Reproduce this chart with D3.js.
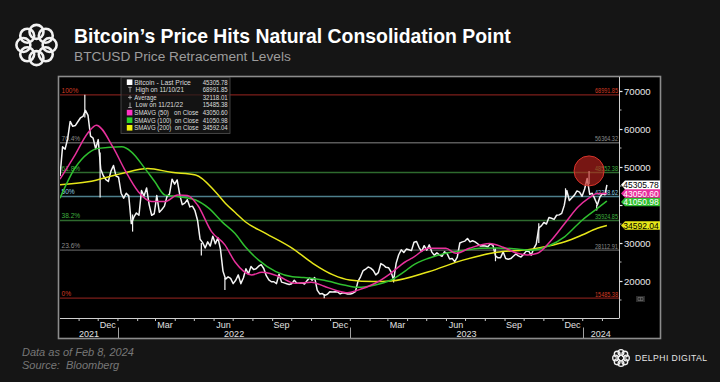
<!DOCTYPE html>
<html><head><meta charset="utf-8">
<script src="https://cdn.jsdelivr.net/npm/d3@7"></script>
<style>
html,body{margin:0;padding:0;background:#151515;}
svg{display:block;}
text{font-family:"Liberation Sans",Arial,sans-serif;}
</style></head><body>
<svg id="chart" width="720" height="382"></svg>
<script>
// ---------------- DATA ----------------
const priceData = [
["2021-10-02",47600],["2021-10-06",55300],["2021-10-10",54700],["2021-10-14",57400],["2021-10-18",62000],["2021-10-22",60700],["2021-10-26",60900],["2021-10-30",61900],["2021-11-03",62900],["2021-11-07",63300],["2021-11-11",64900],["2021-11-15",63600],["2021-11-19",58100],["2021-11-23",57600],["2021-11-27",54800],["2021-12-01",57200],["2021-12-05",49400],["2021-12-09",47700],["2021-12-13",46700],["2021-12-17",46200],["2021-12-21",48900],["2021-12-25",50400],["2021-12-29",47600],
["2022-01-02",47300],["2022-01-06",43100],["2022-01-10",41800],["2022-01-14",43100],["2022-01-18",42400],["2022-01-22",35100],["2022-01-26",36800],["2022-01-30",37900],["2022-02-03",37300],["2022-02-07",43800],["2022-02-11",42400],["2022-02-15",44500],["2022-02-19",40100],["2022-02-23",37300],["2022-02-27",37700],["2022-03-03",42500],["2022-03-07",38100],["2022-03-11",38800],["2022-03-15",39700],["2022-03-19",42200],["2022-03-23",42900],["2022-03-27",46800],["2022-03-31",45500],["2022-04-04",46600],["2022-04-08",42800],["2022-04-12",40100],["2022-04-16",40500],["2022-04-20",41400],["2022-04-24",39500],["2022-04-28",39700],["2022-05-02",38500],["2022-05-06",36000],["2022-05-10",31000],["2022-05-14",30100],["2022-05-18",28700],["2022-05-22",30300],["2022-05-26",29200],["2022-05-30",31800],["2022-06-03",29800],["2022-06-07",31400],["2022-06-11",28400],["2022-06-15",22600],["2022-06-19",20500],["2022-06-23",21100],["2022-06-27",20700],["2022-07-01",19300],["2022-07-05",20200],["2022-07-09",21600],["2022-07-13",19300],["2022-07-17",20800],["2022-07-21",23200],["2022-07-25",21900],["2022-07-29",23800],["2022-08-02",23000],["2022-08-06",23200],["2022-08-10",23900],["2022-08-14",24300],["2022-08-18",23300],["2022-08-22",21400],["2022-08-26",20300],["2022-08-30",19800],["2022-09-03",19800],["2022-09-07",19300],["2022-09-11",21800],["2022-09-15",19700],["2022-09-19",19500],["2022-09-23",19300],["2022-09-27",19100],["2022-10-01",19300],["2022-10-05",20200],["2022-10-09",19400],["2022-10-13",19400],["2022-10-17",19500],["2022-10-21",19200],["2022-10-25",20100],["2022-10-29",20800],["2022-11-02",20200],["2022-11-06",20900],["2022-11-10",17600],["2022-11-14",16600],["2022-11-18",16700],["2022-11-22",16200],["2022-11-26",16500],["2022-11-30",17200],["2022-12-04",17100],["2022-12-08",17200],["2022-12-12",17100],["2022-12-16",16600],["2022-12-20",16900],["2022-12-24",16800],["2022-12-28",16600],
["2023-01-01",16600],["2023-01-05",16800],["2023-01-09",17200],["2023-01-13",19900],["2023-01-17",21100],["2023-01-21",22700],["2023-01-25",23100],["2023-01-29",23700],["2023-02-02",23400],["2023-02-06",22800],["2023-02-10",21600],["2023-02-14",22200],["2023-02-18",24600],["2023-02-22",24200],["2023-02-26",23600],["2023-03-02",23500],["2023-03-06",22400],["2023-03-10",20200],["2023-03-14",24700],["2023-03-18",26900],["2023-03-22",28200],["2023-03-26",27500],["2023-03-30",28400],["2023-04-03",28200],["2023-04-07",28000],["2023-04-11",30200],["2023-04-15",30400],["2023-04-19",28800],["2023-04-23",27800],["2023-04-27",29300],["2023-05-01",28100],["2023-05-05",29500],["2023-05-09",27600],["2023-05-13",26800],["2023-05-17",27400],["2023-05-21",26900],["2023-05-25",26500],["2023-05-29",27700],["2023-06-02",27200],["2023-06-06",25800],["2023-06-10",25900],["2023-06-14",25100],["2023-06-18",26300],["2023-06-22",30000],["2023-06-26",30300],["2023-06-30",30500],["2023-07-04",31200],["2023-07-08",30300],["2023-07-12",30600],["2023-07-16",30300],["2023-07-20",29800],["2023-07-24",29200],["2023-07-28",29300],["2023-08-01",29200],["2023-08-05",29000],["2023-08-09",29800],["2023-08-13",29400],["2023-08-17",26600],["2023-08-21",26100],["2023-08-25",26100],["2023-08-29",27700],["2023-09-02",25900],["2023-09-06",25700],["2023-09-10",25900],["2023-09-14",26500],["2023-09-18",27100],["2023-09-22",26600],["2023-09-26",26300],["2023-09-30",27000],["2023-10-04",27800],["2023-10-08",27900],["2023-10-12",26800],["2023-10-16",28500],["2023-10-20",29700],["2023-10-24",34000],["2023-10-28",34500],["2023-11-01",35400],["2023-11-05",35000],["2023-11-09",36700],["2023-11-13",36500],["2023-11-17",36200],["2023-11-21",37300],["2023-11-25",37400],["2023-11-29",37800],["2023-12-03",39900],["2023-12-07",43800],["2023-12-11",41200],["2023-12-15",41900],["2023-12-19",42600],["2023-12-23",43700],["2023-12-27",43400],["2023-12-31",42300],
["2024-01-04",44200],["2024-01-08",47000],["2024-01-12",42800],["2024-01-16",43100],["2024-01-20",41600],["2024-01-24",40000],["2024-01-28",42100],["2024-02-01",43000],["2024-02-05",42700],["2024-02-08",45305.78]
];
// intraday extremes (date, low, high)
const wickData = [
["2021-11-10",63000,68991.85],["2021-12-04",42000,53800],["2022-01-24",33000,37500],["2022-05-12",26700,30000],
["2022-06-18",17600,20800],["2022-11-21",15485.38,16600],["2023-03-10",19600,20400],["2023-08-17",25200,28700],
["2023-10-24",30000,35200],["2023-12-05",41500,44400],["2024-01-11",45500,48969],["2024-01-23",38555,40000]
];
const sma50Data = [
["2021-10-02",46800],["2021-10-25",53000],["2021-11-15",59000],["2021-11-28",61000],["2021-12-24",55300],["2022-01-12",49200],["2022-02-02",43500],["2022-02-23",40900],["2022-03-16",40900],["2022-04-05",42600],["2022-04-20",42500],["2022-05-06",40000],["2022-05-28",33000],["2022-06-18",29500],["2022-07-04",25000],["2022-07-30",21600],["2022-08-15",22300],["2022-08-28",22000],["2022-09-12",21100],["2022-10-06",19400],["2022-11-01",19700],["2022-11-21",18600],["2022-12-10",17500],["2022-12-28",16900],["2023-01-13",17600],["2023-02-09",19400],["2023-03-06",22100],["2023-03-28",25000],["2023-04-08",26000],["2023-05-04",28600],["2023-05-31",28600],["2023-06-16",27300],["2023-07-07",28600],["2023-08-08",29900],["2023-08-29",28900],["2023-09-20",27300],["2023-10-06",26840],["2023-10-22",27300],["2023-11-13",30800],["2023-12-04",35200],["2023-12-25",39550],["2024-01-10",41760],["2024-01-24",43000],["2024-02-08",43050.60]
];
const sma100Data = [
["2021-10-02",41800],["2021-10-25",49600],["2021-11-15",53600],["2021-12-01",54900],["2022-01-07",55300],["2022-01-22",54000],["2022-02-12",49700],["2022-02-28",46100],["2022-03-16",42600],["2022-04-06",42200],["2022-05-03",41300],["2022-05-24",39100],["2022-06-14",35500],["2022-07-04",32500],["2022-07-20",29000],["2022-08-10",25500],["2022-09-06",22450],["2022-10-02",21100],["2022-10-20",20900],["2022-11-21",20200],["2022-12-22",18950],["2023-01-13",18340],["2023-02-09",18950],["2023-03-06",20260],["2023-03-28",22600],["2023-04-08",24000],["2023-05-04",26000],["2023-05-31",27300],["2023-06-27",28000],["2023-07-23",28600],["2023-08-19",28700],["2023-09-15",28500],["2023-10-12",28100],["2023-11-08",29200],["2023-12-04",31700],["2023-12-31",36000],["2024-01-24",39100],["2024-02-08",41050.98]
];
const sma200Data = [
["2021-10-02",45300],["2021-11-15",46100],["2022-01-07",48300],["2022-02-17",49600],["2022-03-26",48600],["2022-05-03",47900],["2022-06-03",43500],["2022-06-19",40400],["2022-07-05",37900],["2022-07-20",35600],["2022-08-21",32550],["2022-10-02",28600],["2022-11-03",24650],["2022-12-05",21600],["2022-12-31",20260],["2023-02-06",19850],["2023-03-06",20000],["2023-05-04",22450],["2023-06-27",25500],["2023-08-19",27550],["2023-10-12",28340],["2023-11-08",29200],["2023-12-04",30340],["2023-12-31",32100],["2024-01-24",33870],["2024-02-08",34592.04]
];
const levelValues = [68991.85, 56364.32, 48552.38, 42238.62, 35924.85, 28112.91, 15485.38];
const levelNames  = ["100%","76.4%","61.8%","50%","38.2%","23.6%","0%"];
const yTickValues  = [20000, 30000, 40000, 50000, 60000, 70000];
const yLabelValues = [20000, 30000, 50000, 60000, 70000];
const quarterNames = ["Dec","Mar","Jun","Sep","Dec","Mar","Jun","Sep","Dec"];
const quarterDates = ["2021-12-16","2022-03-16","2022-06-16","2022-09-15","2022-12-16","2023-03-16","2023-06-16","2023-09-15","2023-12-16"];
const yearNames = ["2021","2022","2023","2024"];
const lastValues = [34592.04, 41050.98, 43050.60, 45305.78];
const legendNames = ["Bitcoin - Last Price","High on 11/10/21","Average","Low on 11/21/22","SMAVG (50)   on Close","SMAVG (100)  on Close","SMAVG (200)  on Close"];
const legendValues = [45305.78, 68991.85, 32118.01, 15485.38, 43050.60, 41050.98, 34592.04];
const highlightPoint = ["2024-01-11", 48969];

// ---------------- STYLES ----------------
const C = {pink:"#e8309c", green:"#2fbf2f", yellow:"#e6e619", white:"#ffffff"};
const levelLine  = ["#7c1e1a","#5a5a5a","#2e6a2e","#4d7f8c","#2e6a2e","#5a5a5a","#7c1e1a"];
const levelText  = ["#d23a22","#8a8a8a","#3fae3f","#8fd0e6","#3fae3f","#8a8a8a","#d23a22"];
const tagFill = ["#e6e619","#2fbf2f","#e8309c","#ffffff"];
const tagText = ["#000","#fff","#fff","#000"];
const tagNudge = [0, 0.9, 0, 0];
const legendIcon = ["sq","hi","plus","lo","sq","sq","sq"];
const legendColor = ["#fff","#bbb","#bbb","#bbb","#ff33c4","#2ad02a","#f2f20a"];
const legendTextX = [134.3,135.5,134.3,135.5,134.3,134.3,134.3];
const legendTextW = [56.5,48.5,22.3,47.5,64.2,64.2,64.2];

// ---------------- CHART ----------------
const parse = d3.utcParse("%Y-%m-%d");
const svg = d3.select("#chart");
const PL=60, PR=619, PT=77, PB=318;

svg.append("rect").attr("width",720).attr("height",382).attr("fill","#151515");

// header logo
function logo(g, cx, cy, r, sw){
  const n=8;
  for(let i=0;i<n;i++){
    const a=i*2*Math.PI/n;
    g.append("circle").attr("cx",cx+Math.cos(a)*r*0.64).attr("cy",cy+Math.sin(a)*r*0.64)
     .attr("r",r*0.34).attr("fill","none").attr("stroke","#f2f2f2").attr("stroke-width",sw);
  }
}
logo(svg.append("g"), 36.5, 45, 20.5, 2.6);

svg.append("text").attr("x",74).attr("y",43).attr("fill","#ffffff")
  .attr("font-size",19.4).attr("font-weight","bold").text("Bitcoin’s Price Hits Natural Consolidation Point");
svg.append("text").attr("x",74).attr("y",61).attr("fill","#9c9c9c")
  .attr("font-size",13.7).text("BTCUSD Price Retracement Levels");

// chart box
svg.append("rect").attr("x",58.5).attr("y",76.5).attr("width",602).attr("height",262)
  .attr("fill","#000").attr("stroke","#8c8c8c").attr("stroke-width",1.6);

const x = d3.scaleUtc().domain([parse("2021-10-02"), parse("2024-02-27")]).range([PL, PR]);
const y = d3.scaleLinear().domain([20000, 70000]).range([281, 91]);

svg.append("clipPath").attr("id","plotclip").append("rect")
  .attr("x",PL).attr("y",PT).attr("width",PR-PL).attr("height",PB-PT);
const plot = svg.append("g").attr("clip-path","url(#plotclip)");

// retracement lines
levelValues.forEach((v,i)=>{
  plot.append("line").attr("x1",PL).attr("x2",PR).attr("y1",y(v)).attr("y2",y(v))
    .attr("stroke",levelLine[i]).attr("stroke-width",1.4);
  plot.append("text").attr("x",PL+1.5).attr("y",y(v)-2).attr("fill",levelText[i])
    .attr("font-size",6.6).text(levelNames[i]);
  plot.append("text").attr("x",PR-1).attr("y",y(v)-1.5).attr("fill",levelText[i])
    .attr("text-anchor","end").attr("font-size",6.8).attr("textLength",23).attr("lengthAdjust","spacingAndGlyphs")
    .text(d3.format(".2f")(v));
});

// price
const line = d3.line().x(d=>x(parse(d[0]))).y(d=>y(d[1]));
plot.append("path").datum(priceData).attr("d",line).attr("fill","none")
  .attr("stroke","#f4f4f4").attr("stroke-width",1.5).attr("stroke-linejoin","round");
plot.selectAll("line.wick").data(wickData).join("line").attr("class","wick")
  .attr("x1",d=>x(parse(d[0]))).attr("x2",d=>x(parse(d[0])))
  .attr("y1",d=>y(d[1])).attr("y2",d=>y(d[2])).attr("stroke","#f4f4f4").attr("stroke-width",1.2);

// moving averages
const smooth = d3.line().x(d=>x(parse(d[0]))).y(d=>y(d[1])).curve(d3.curveMonotoneX);
[[sma200Data,C.yellow],[sma100Data,C.green],[sma50Data,C.pink]].forEach(([data,col])=>{
  plot.append("path").datum(data).attr("d",smooth).attr("fill","none")
    .attr("stroke",col).attr("stroke-width",1.5);
});

// highlight circle
plot.append("circle").attr("cx",x(parse(highlightPoint[0]))).attr("cy",y(highlightPoint[1])).attr("r",15)
  .attr("fill","#c0241f").attr("fill-opacity",0.62).attr("stroke","#d8352c").attr("stroke-width",1);

// legend
const lg = svg.append("g");
lg.append("rect").attr("x",121).attr("y",77.5).attr("width",109).attr("height",56)
  .attr("fill","#1b1b1b").attr("fill-opacity",0.7).attr("stroke","#505050").attr("stroke-width",0.8);
legendNames.forEach((name,i)=>{
  const cy = 82.2 + i*7.6;
  const ic = legendIcon[i], col = legendColor[i];
  if(ic==="sq") lg.append("rect").attr("x",126.8).attr("y",cy-2.8).attr("width",5.6).attr("height",5.6).attr("fill",col);
  else if(ic==="hi"){ lg.append("path").attr("d",`M128.2,${cy-2.5}H131.8M130,${cy-2.5}V${cy+2.5}`).attr("stroke",col).attr("stroke-width",0.8).attr("fill","none"); }
  else if(ic==="lo"){ lg.append("path").attr("d",`M128.2,${cy+2.5}H131.8M130,${cy-2.5}V${cy+2.5}`).attr("stroke",col).attr("stroke-width",0.8).attr("fill","none"); }
  else { lg.append("path").attr("d",`M128,${cy}H132M130,${cy-2}V${cy+2}`).attr("stroke",col).attr("stroke-width",0.8).attr("fill","none"); }
  lg.append("text").attr("x",legendTextX[i]).attr("y",cy+2.3).attr("fill","#dedede").attr("font-size",6.5)
    .attr("textLength",legendTextW[i]).attr("lengthAdjust","spacingAndGlyphs")
    .style("white-space","pre").text(name);
  lg.append("text").attr("x",227.7).attr("y",cy+2.3).attr("fill","#dedede").attr("font-size",6.5)
    .attr("text-anchor","end").attr("textLength",25).attr("lengthAdjust","spacingAndGlyphs")
    .text(d3.format(".2f")(legendValues[i]));
});

// y axis
svg.append("line").attr("x1",PR+0.5).attr("x2",PR+0.5).attr("y1",PT).attr("y2",PB).attr("stroke","#d0d0d0").attr("stroke-width",1);
const yAxis = d3.axisRight(y).tickValues(yTickValues).tickSize(3).tickFormat(d=>yLabelValues.includes(d)?d:"");
const yg = svg.append("g").attr("transform",`translate(${PR+0.5},0)`).call(yAxis);
yg.select(".domain").remove();
yg.selectAll(".tick line").attr("stroke","#e8e8e8").attr("stroke-width",1.2);
yg.selectAll(".tick text").attr("fill","#e8e8e8").attr("font-size",9.6).attr("x",4.5)
  .attr("font-family","Liberation Sans, Arial, sans-serif");
svg.selectAll("line.yminor").data([15000,25000,35000,45000,55000,65000]).join("line").attr("class","yminor")
  .attr("x1",PR+0.5).attr("x2",PR+2.5).attr("y1",d=>y(d)).attr("y2",d=>y(d)).attr("stroke","#bbb");

// value tags
lastValues.forEach((v,i)=>{
  const cy = y(v) + tagNudge[i];
  svg.append("path").attr("d",`M621,${cy}L625,${cy-4.3}H660V${cy+4.3}H625Z`).attr("fill",tagFill[i]);
  svg.append("text").attr("x",623.3).attr("y",cy+3.1).attr("fill",tagText[i]).attr("font-size",8.5)
    .attr("textLength",35.5).attr("lengthAdjust","spacingAndGlyphs")
    .text(d3.format(".2f")(v));
});

// small icon
svg.append("rect").attr("x",636).attr("y",296).attr("width",9).attr("height",6).attr("fill","#2b2b2b");
svg.append("path").attr("d","M638,297.5H643V300.5H638ZM640.5,297.5V300.5").attr("fill","none").attr("stroke","#777").attr("stroke-width",0.6);

// x axis
svg.append("line").attr("x1",PL).attr("x2",PR+0.5).attr("y1",PB+0.5).attr("y2",PB+0.5).attr("stroke","#d0d0d0");
const months = d3.utcMonth.range(x.domain()[0], x.domain()[1]);
svg.selectAll("line.xtick").data(months).join("line").attr("class","xtick")
  .attr("x1",d=>x(d)).attr("x2",d=>x(d)).attr("y1",PB).attr("y2",PB+3).attr("stroke","#c8c8c8");
svg.selectAll("text.qlab").data(quarterNames).join("text").attr("class","qlab")
  .attr("x",(d,i)=>x(parse(quarterDates[i]))).attr("y",327.5).attr("text-anchor","middle")
  .attr("fill","#e0e0e0").attr("font-size",9).text(d=>d);
const years = yearNames.map(n=>{
  const s = d3.max([parse(n+"-01-01"), x.domain()[0]]);
  const e = d3.min([parse((+n+1)+"-01-01"), x.domain()[1]]);
  return {n, s, e};
});
svg.selectAll("text.ylab").data(years).join("text").attr("class","ylab")
  .attr("x",d=>(x(d.s)+x(d.e))/2).attr("y",336.8).attr("text-anchor","middle")
  .attr("fill","#e0e0e0").attr("font-size",9).text(d=>d.n);
svg.selectAll("line.ysep").data(years.slice(1)).join("line").attr("class","ysep")
  .attr("x1",d=>Math.round(x(d.s))+0.5).attr("x2",d=>Math.round(x(d.s))+0.5).attr("y1",327.5).attr("y2",338)
  .attr("stroke","#a0a0a0");

// footer
svg.append("text").attr("x",22).attr("y",356).attr("fill","#777").attr("font-size",11).attr("font-style","italic").text("Data as of Feb 8, 2024");
svg.append("text").attr("x",22).attr("y",368.5).attr("fill","#777").attr("font-size",11).attr("font-style","italic")
  .style("white-space","pre").text("Source:  Bloomberg");

logo(svg.append("g"), 621, 358, 8.5, 1.3);
svg.append("text").attr("x",635).attr("y",361.3).attr("fill","#e6e6e6").attr("font-size",8.6)
  .attr("textLength",72).attr("lengthAdjust","spacing").text("DELPHI DIGITAL");
</script>
</body></html>
